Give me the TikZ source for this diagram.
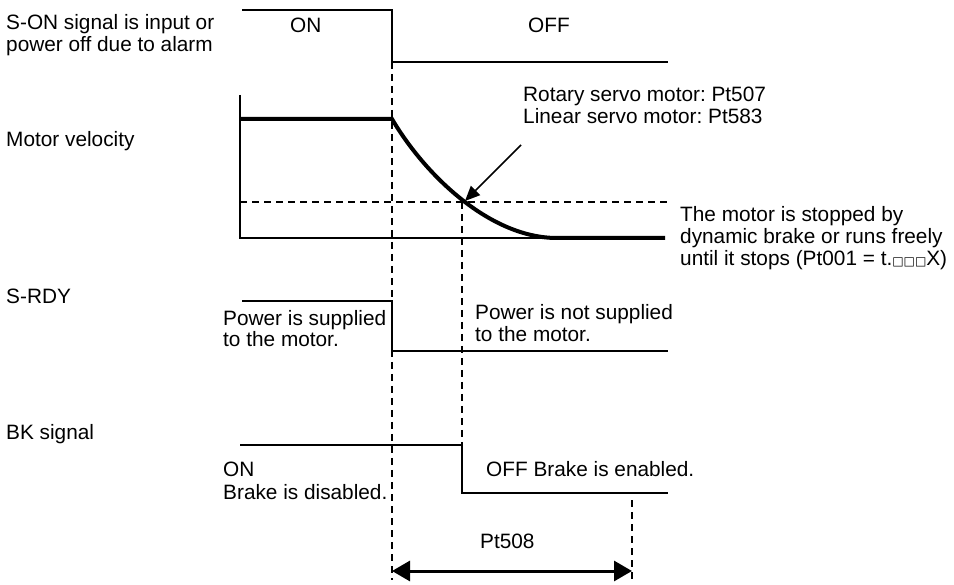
\documentclass[tikz,border=0pt]{standalone}
\usepackage{fontspec}
\setmainfont{Liberation Sans}
\newfontfamily\symfont{DejaVu Sans}
\usetikzlibrary{arrows.meta}
\frenchspacing
\begin{document}
\begin{tikzpicture}[x=1pt,y=-1pt,
  lbl/.style={anchor=base west,inner sep=0pt,font=\fontsize{20.8}{22}\selectfont},
  sig/.style={line width=1.5pt},
  thick line/.style={line width=4pt},
  guide/.style={line width=1.5pt,dash pattern=on 7pt off 5pt},
  ptr/.style={line width=1.5pt,-{Triangle[length=15pt,width=13pt]}},
  dim/.style={line width=3pt,{Triangle[length=18pt,width=20pt]}-{Triangle[length=18pt,width=20pt]}}]
\useasboundingbox (0,0) rectangle (954,585);
\newcommand{\sq}{{\symfont\fontsize{12}{12}\selectfont □}}

% row labels
\node[lbl] (l1a) at (6,30) {S-ON signal is input or};
\node[lbl] (l1b) at (6,52) {power off due to alarm};
\node[lbl] (l2) at (6,147) {Motor velocity};
\node[lbl] (l3) at (6,304) {S-RDY};
\node[lbl] (l4) at (6,439) {BK signal};

% coordinates
\coordinate (s0) at (242,10);
\coordinate (s1) at (392,10);
\coordinate (s2) at (392,62);
\coordinate (s3) at (668,62);

\coordinate (vtop) at (240,95);
\coordinate (vbot) at (240,238);
\coordinate (v0) at (240,119);
\coordinate (v1) at (392,119);
\coordinate (v2) at (557,238);
\coordinate (v3) at (665,238);
\coordinate (h0) at (240,202);
\coordinate (h1) at (668,202);
\coordinate (cross) at (462,202);

\coordinate (r0) at (242,301);
\coordinate (r1) at (392,301);
\coordinate (r2) at (392,351);
\coordinate (r3) at (668,351);

\coordinate (b0) at (240,445);
\coordinate (b1) at (462,445);
\coordinate (b2) at (462,493);
\coordinate (b3) at (668,493);

\coordinate (d1top) at (392,62);
\coordinate (d1bot) at (392,580);
\coordinate (d3top) at (632,500);
\coordinate (d3bot) at (632,580);
\coordinate (a0) at (392,571);
\coordinate (a1) at (632,571);
\coordinate (p0) at (521,145);
\coordinate (p1) at (465,201);

% S-ON
\draw[sig] (s0) -- (s1) -- (s2) -- (s3);
\node[lbl] (on1) at (290,33) {ON};
\node[lbl] (off1) at (528,33) {OFF};

% motor velocity
\draw[sig] (vtop) -- (vbot) -- (v2);
\draw[guide] (h0) -- (h1);
\draw[thick line] (v0) -- (v1) .. controls (425,175) and (490,238) .. (v2) -- (v3);
\draw[ptr] (p0) -- (p1);
\node[lbl] (t1) at (523,102) {Rotary servo motor: Pt507};
\node[lbl] (t2) at (523,124) {Linear servo motor: Pt583};
\node[lbl] (t3) at (680,222) {The motor is stopped by};
\node[lbl] (t4) at (680,244) {dynamic brake or runs freely};
\node[lbl] (t5) at (680,266) {until it stops (Pt001 = t.\sq\sq\sq X)};

% S-RDY
\draw[sig] (r0) -- (r1) -- (r2) -- (r3);
\node[lbl] (t6) at (223,326) {Power is supplied};
\node[lbl] (t7) at (223,347) {to the motor.};
\node[lbl] (t8) at (475,320) {Power is not supplied};
\node[lbl] (t9) at (475,342) {to the motor.};

% BK
\draw[sig] (b0) -- (b1) -- (b2) -- (b3);
\node[lbl] (t10) at (223,477) {ON};
\node[lbl] (t11) at (223,500) {Brake is disabled.};
\node[lbl] (t12) at (486,477) {OFF Brake is enabled.};

% guides
\draw[guide] (d1top) -- (d1bot);
\draw[guide] (cross) -- (b1);
\draw[guide] (d3top) -- (d3bot);

% Pt508
\node[lbl] (t13) at (480,548) {Pt508};
\draw[dim] (a0) -- (a1);
\end{tikzpicture}
\end{document}
